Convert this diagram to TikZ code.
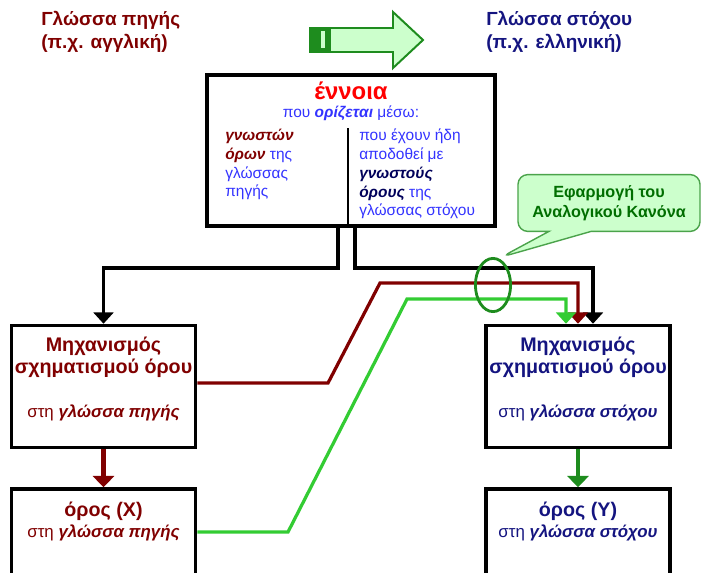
\documentclass[tikz,border=0pt]{standalone}
\usepackage{fontspec}
\setmainfont{Liberation Sans}
\usetikzlibrary{positioning,arrows.meta,shapes.geometric,shapes.callouts}

\definecolor{srcred}{RGB}{128,0,0}
\definecolor{tgtblue}{RGB}{20,20,128}
\definecolor{textblue}{RGB}{51,51,255}
\definecolor{darknavy}{RGB}{0,0,90}
\definecolor{brightgreen}{RGB}{51,204,51}
\definecolor{darkgreen}{RGB}{30,140,30}
\definecolor{palegreen}{RGB}{204,255,204}
\definecolor{calloutgreen}{RGB}{0,110,0}

\begin{document}
\begin{tikzpicture}[x=0.025cm,y=-0.025cm,
  box/.style={draw,line width=2.5pt,minimum width=4.6cm,inner sep=0pt},
  conn/.style={line width=2.6pt,-{Triangle[width=14pt,length=8pt]}},
  langtext/.style={font=\fontsize{13.5}{16.3}\selectfont\bfseries,align=left,anchor=west,inner sep=0pt},
  headtext/.style={font=\fontsize{14}{15.6}\selectfont\bfseries,align=center},
  subtext/.style={font=\fontsize{12}{14}\selectfont,align=center},
  coltext/.style={font=\fontsize{11}{13.3}\selectfont,text=textblue,align=left,anchor=north west,inner sep=0pt}]

\clip (0,0) rectangle (708,572);

% languages and direction
\node (srclang) at (41,31.5) [langtext,text=srcred] {Γλώσσα πηγής\\(π.χ. αγγλική)};
\node (tgtlang) at (486,31.5) [langtext,text=tgtblue] {Γλώσσα στόχου\\(π.χ. ελληνική)};
\draw [draw=darkgreen,fill=palegreen,line width=1.4pt] (310,28) -- (393,28) -- (393,12) -- (423,40) -- (393,68) -- (393,52) -- (310,52) -- cycle;
\fill [darkgreen] (310,28) rectangle (331,52);
\fill [palegreen] (321,31) rectangle (324.5,48);

% concept box
\node (ennoia) at (351,150.5) [draw,line width=2.5pt,minimum width=7.2cm,minimum height=3.775cm] {};
\node (ennoiatitle) at (351,91) [font=\fontsize{17}{20}\selectfont\bfseries,text=red] {έννοια};
\node (ennoiasub) at (351,113) [font=\fontsize{11}{13}\selectfont,text=textblue] {που \textbf{\textit{ορίζεται}} μέσω:};
\node (srccol) at (225,129) [coltext] {\textcolor{srcred}{\textbf{\textit{γνωστών}}}\\\textcolor{srcred}{\textbf{\textit{όρων}}} της\\γλώσσας\\πηγής};
\node (tgtcol) at (359,129) [coltext] {που έχουν ήδη\\αποδοθεί με\\\textcolor{darknavy}{\textbf{\textit{γνωστούς}}}\\\textcolor{darknavy}{\textbf{\textit{όρους}}} της\\γλώσσας στόχου};
\coordinate (divtop) at (348,128);
\draw [line width=1.4pt] (divtop) -- (divtop |- ennoia.south);

% mechanisms and terms
\node (srcmech) at (103.5,386.5) [box,minimum height=3.05cm] {};
\node (srcmechtext) at (103.5,357) [headtext,text=srcred] {Μηχανισμός\\σχηματισμού όρου};
\node (srcmechsub) at (103.5,413) [subtext,text=srcred] {στη \textbf{\textit{γλώσσα πηγής}}};
\node (tgtmech) at (578,386.5) [box,minimum height=3.05cm] {};
\node (tgtmechtext) at (578,357) [headtext,text=tgtblue] {Μηχανισμός\\σχηματισμού όρου};
\node (tgtmechsub) at (578,413) [subtext,text=tgtblue] {στη \textbf{\textit{γλώσσα στόχου}}};
\node (srcterm) at (103.5,532.5) [box,minimum height=2.175cm] {};
\node (srctermtext) at (103.5,511) [headtext,text=srcred] {όρος (X)};
\node (srctermsub) at (103.5,533) [subtext,text=srcred] {στη \textbf{\textit{γλώσσα πηγής}}};
\node (tgtterm) at (578,532.5) [box,minimum height=2.175cm] {};
\node (tgttermtext) at (578,511) [headtext,text=tgtblue] {όρος (Y)};
\node (tgttermsub) at (578,533) [subtext,text=tgtblue] {στη \textbf{\textit{γλώσσα στόχου}}};

% connectors
\coordinate (lsplit) at (338,268);
\coordinate (rsplit) at (355,268);
\draw [conn] (lsplit |- ennoia.south) -- (lsplit) -| (srcmech.north);
\draw [conn] (rsplit |- ennoia.south) -- (rsplit) -| (593,0 |- tgtmech.north);
\draw [conn,srcred,line width=2.3pt] (srcmech.east |- 0,383) -- (328,383) -- (380,283) -| (tgtmech.north);
\draw [conn,brightgreen,line width=2.3pt] (srcterm.east |- 0,532) -- (288,532) -- (407,299) -| (566,0 |- tgtmech.north);
\draw [conn,srcred,line width=3.4pt,-{Triangle[width=15pt,length=8pt]}] (srcmech) -- (srcterm);
\draw [conn,darkgreen,line width=2.3pt,-{Triangle[width=15pt,length=8pt]}] (tgtmech) -- (tgtterm);

% analogical rule
\node (analog) at (493,285) [ellipse,draw=darkgreen,line width=2pt,minimum width=0.88cm,minimum height=1.33cm] {};
\node (rule) at (609,203) [rectangle callout,draw=darkgreen!80,fill=palegreen,line width=1pt,rounded corners=7pt,
  minimum width=4.55cm,minimum height=1.42cm,callout pointer width=30pt,
  callout absolute pointer={([xshift=6pt]analog.north)},
  font=\fontsize{11.5}{14}\selectfont\bfseries,text=calloutgreen,align=center] {Εφαρμογή του\\Αναλογικού Κανόνα};

\end{tikzpicture}
\end{document}
